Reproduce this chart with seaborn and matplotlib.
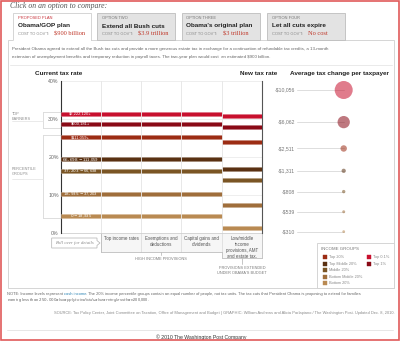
import matplotlib
matplotlib.use("Agg")
import numpy as np
import pandas as pd
import matplotlib.pyplot as plt
import matplotlib.patheffects as pe
from matplotlib.colors import PowerNorm, to_rgb
from matplotlib.patches import Rectangle, Polygon
import seaborn as sns

# ---------------- data ----------------
groups = ["Top 0.1%", "Top 1%", "Top 20%", "Top Middle 20%", "Middle 20%",
          "Bottom Middle 20%", "Bottom 20%"]
income_ranges = ["$2,222,120+", "$600,181+", "$111,059+", "$66,698-$111,059",
                 "$37,203-$66,698", "$18,935-$37,203", "$0-$18,935"]
stage_labels = ["Current", "Top income rates", "Exemptions and\ndeductions",
                "Capital gains and\ndividends",
                "Low/middle\nincome\nprovisions, AMT\nand estate tax."]
rate_current = [31.4, 28.8, 25.2, 19.4, 16.4, 10.3, 4.6]
rate_top_income = [31.4, 28.8, 25.2, 19.4, 16.4, 10.3, 4.6]
rate_exemptions = [31.4, 28.8, 25.2, 19.4, 16.4, 10.3, 4.6]
rate_capital_gains = [31.4, 28.8, 25.2, 19.4, 16.4, 10.3, 4.6]
rate_new = [30.7, 28.0, 23.9, 16.8, 13.9, 7.5, 1.4]
avg_tax_change = [-10056, -6062, -2511, -1311, -808, -539, -310]
avg_change_labels = ["-$10,056", "-$6,062", "-$2,511", "-$1,311", "-$808",
                     "-$539", "-$310"]
tick_values = [0, 10, 20, 30, 40]
tick_labels = ["0%", "10%", "20%", "30%", "40%"]
tab_kicker = ["PROPOSED PLAN", "OPTION TWO", "OPTION THREE", "OPTION FOUR"]
tab_titles = ["Obama/GOP plan", "Extend all Bush cuts", "Obama's original plan",
              "Let all cuts expire"]
tab_costs = ["$900 billion", "$3.9 trillion", "$3 trillion", "No cost"]

stage_rates = [rate_current, rate_top_income, rate_exemptions,
               rate_capital_gains, rate_new]

# ---------------- style ----------------
group_colors = ["#c8102e", "#8a0a16", "#9c2c14", "#5a3112", "#7a5524",
                "#9f6e3b", "#b98a52"]
palette = dict(zip(groups, group_colors))

sns.set_theme(style="white")
plt.rcParams['font.family'] = ['Liberation Sans', 'DejaVu Sans']
SERIF = ['Liberation Serif', 'DejaVu Serif']

W, H = 400, 341
fig = plt.figure(figsize=(4, 3.41), dpi=100)
fig.patch.set_facecolor('white')

bg = fig.add_axes([0, 0, 1, 1])
bg.set_xlim(0, W)
bg.set_ylim(H, 0)
bg.axis('off')
bg.set_zorder(0)


def px_axes(x0, y0, x1, y1):
    return fig.add_axes([x0 / W, 1 - y1 / H, (x1 - x0) / W, (y1 - y0) / H])


def light(c, f=0.5):
    r = np.array(to_rgb(c))
    return tuple(r + (1 - r) * f)


GRAY_TXT = "#666666"

# outer red frame
bg.add_patch(Rectangle((0.8, 0.8), W - 1.6, H - 1.6, fill=False,
                       edgecolor="#e05a5a", lw=1.2, zorder=10))

bg.text(10, 6, "Click on an option to compare:", family=SERIF, style='italic',
        fontsize=5.6, color="#555555", va='center', ha='left')

# panel
bg.add_patch(Rectangle((8, 40), 386, 248, facecolor='white',
                       edgecolor='#cfcfcf', lw=0.6, zorder=1))

# tabs
tab_x = [13, 97, 182, 267]
tab_w = 78
for i in range(4):
    x = tab_x[i]
    if i == 0:
        bg.add_patch(Rectangle((x, 12.5), tab_w, 28, facecolor='white',
                               edgecolor='none', zorder=2))
        bg.plot([x, x, x + tab_w, x + tab_w], [40.3, 12.5, 12.5, 40.3],
                color='#cfcfcf', lw=0.6, zorder=3)
    else:
        bg.add_patch(Rectangle((x, 12.5), tab_w, 27.5, facecolor='#e3e3e3',
                               edgecolor='#bdbdbd', lw=0.6, zorder=2))
    tx = x + 4.5
    bg.text(tx, 18.3, tab_kicker[i], fontsize=2.9,
            color="#c8343c" if i == 0 else "#777777", va='center', zorder=4)
    bg.text(tx, 26, tab_titles[i], fontsize=4.6, fontweight='bold',
            color="#222222", va='center', zorder=4)
    bg.text(tx, 33.8, "COST TO GOV'T:", fontsize=2.9, color="#888888",
            va='center', zorder=4)
    bg.text(tx + 36.5, 33.6, tab_costs[i], fontsize=4.6, family=SERIF,
            color="#c0392b", va='center', zorder=4)

# description
desc = ["President Obama agreed to extend all the Bush tax cuts and provide a more generous estate tax in exchange for a continuation of refundable tax credits, a 13-month",
        "extension of unemployment benefits and temporary reduction in payroll taxes. The two-year plan would cost  an estimated $900 billion."]
bg.text(11.5, 48.8, desc[0], fontsize=3.15, color=GRAY_TXT, va='center', zorder=4)
bg.text(11.5, 56.6, desc[1], fontsize=3.15, color=GRAY_TXT, va='center', zorder=4)
bg.plot([10, 392], [65, 65], color='#e6e6e6', lw=0.6, zorder=3)

# headers
bg.text(35, 73.3, "Current tax rate", fontsize=4.6, fontweight='bold',
        color="#222222", va='center', zorder=4)
bg.text(259, 73.3, "New tax rate", fontsize=4.6, fontweight='bold',
        color="#222222", va='center', ha='center', zorder=4)
bg.text(339, 73.3, "Average tax change per taxpayer", fontsize=4.6,
        fontweight='bold', color="#222222", va='center', ha='center', zorder=4)

# ---------------- main chart ----------------
X0, X1, YT, YB = 60.5, 262, 81, 233
n_st = len(stage_labels)
ax = px_axes(X0, YT, X1, YB)
ax.set_zorder(3)
ax.set_facecolor('none')

rows = []
for gi, g in enumerate(groups):
    for si in range(n_st):
        r = stage_rates[si][gi]
        seg = f"{g}|{si}"
        rows.append(dict(group=g, seg=seg, x=si, rate=r))
        rows.append(dict(group=g, seg=seg, x=si + 1, rate=r))
bars = pd.DataFrame(rows)

sns.lineplot(data=bars, x='x', y='rate', hue='group', units='seg',
             estimator=None, palette=palette, hue_order=groups, lw=2.5,
             legend=False, sort=False, ax=ax, zorder=3)
for ln in ax.lines:
    ln.set_solid_capstyle('butt')
    ln.set_path_effects([pe.Stroke(linewidth=3.5,
                                   foreground=light(ln.get_color(), 0.55)),
                         pe.Normal()])

ax.set_xlim(0, n_st)
ax.set_ylim(0, 40)
ax.set_yticks(tick_values)
ax.set_yticklabels(tick_labels, fontsize=3.8, color=GRAY_TXT)
ax.set_xticks([])
ax.tick_params(axis='y', length=0, pad=1.2)
ax.set_xlabel('')
ax.set_ylabel('')
ax.grid(axis='y', color='#e8e8e8', lw=0.5)
ax.set_axisbelow(True)
ax.vlines(range(1, n_st), 0, 40, color='#e9e9e9', lw=0.6, zorder=5)
for s in ['top', 'bottom']:
    ax.spines[s].set_visible(False)
ax.spines['left'].set_color('#333333')
ax.spines['left'].set_linewidth(0.8)
ax.spines['right'].set_color('#555555')
ax.spines['right'].set_linewidth(0.8)

for gi in range(len(groups)):
    ax.text(0.5, rate_current[gi], income_ranges[gi], fontsize=3.0,
            color='white', ha='center', va='center', zorder=6)

# left group annotations
bg.text(11.7, 112, "TOP\nEARNERS", fontsize=2.8, color="#8a8a8a", va='top',
        linespacing=1.25, zorder=4)
bg.plot([42.7, 42.7], [111.7, 128.3], color='#d8d8d8', lw=0.6, zorder=2)
bg.plot([42.7, X0], [111.7, 111.7], color='#d8d8d8', lw=0.6, zorder=2)
bg.plot([42.7, X0], [128.3, 128.3], color='#d8d8d8', lw=0.6, zorder=2)
bg.plot([11.7, 42.7], [120.5, 120.5], color='#e2e2e2', lw=0.5, zorder=2)
bg.text(11.7, 167.5, "PERCENTILE\nGROUPS", fontsize=2.8, color="#8a8a8a",
        va='top', linespacing=1.25, zorder=4)
bg.plot([42.7, 42.7], [135, 218.3], color='#d8d8d8', lw=0.6, zorder=2)
bg.plot([42.7, X0], [135, 135], color='#d8d8d8', lw=0.6, zorder=2)
bg.plot([42.7, X0], [218.3, 218.3], color='#d8d8d8', lw=0.6, zorder=2)
bg.plot([11.7, 42.7], [179.3, 179.3], color='#e2e2e2', lw=0.5, zorder=2)

# bottom stage label boxes
colw = (X1 - X0) / n_st
col_px = [X0 + i * colw for i in range(n_st + 1)]
bg.add_patch(Rectangle((col_px[1], YB), col_px[4] - col_px[1], 251.7 - YB,
                       facecolor='#f6f6f6', edgecolor='none', zorder=1.5))
bg.add_patch(Rectangle((col_px[4], YB), col_px[5] - col_px[4], 258.3 - YB,
                       facecolor='#f6f6f6', edgecolor='none', zorder=1.5))
for xv in col_px[1:5]:
    bg.plot([xv, xv], [YT, 251.7], color='#dedede', lw=0.6, zorder=2)
bg.plot([col_px[5], col_px[5]], [YB, 258.3], color='#bdbdbd', lw=0.6, zorder=2)
bg.plot([col_px[4], col_px[4]], [251.7, 258.3], color='#bdbdbd', lw=0.6, zorder=2)
bg.plot([col_px[1], col_px[4]], [251.7, 251.7], color='#bdbdbd', lw=0.6, zorder=2)
bg.plot([col_px[1], col_px[1]], [YB, 251.7], color='#bdbdbd', lw=0.6, zorder=2)
bg.plot([col_px[4], col_px[5]], [258.3, 258.3], color='#bdbdbd', lw=0.6, zorder=2)
bg.plot([col_px[0], col_px[5]], [YB, YB], color='#d0d0d0', lw=0.6, zorder=2)
hc = (col_px[1] + col_px[4]) / 2
bg.plot([hc, hc], [251.7, 254.8], color='#bdbdbd', lw=0.6, zorder=2)
bg.text(hc, 259.3, "HIGH INCOME PROVISIONS", fontsize=2.8, color="#7a7a7a",
        ha='center', va='center', zorder=4)
lc = (col_px[4] + col_px[5]) / 2
bg.plot([lc, lc], [258.3, 263.5], color='#bdbdbd', lw=0.6, zorder=2)
bg.text(lc, 266.3, "PROVISIONS EXTENDED\nUNDER OBAMA'S BUDGET", fontsize=2.8,
        color="#7a7a7a", ha='center', va='top', linespacing=1.35, zorder=4)
for si in range(1, n_st):
    cx = (col_px[si] + col_px[si + 1]) / 2
    bg.text(cx, 235.6, stage_labels[si], fontsize=3.25, color="#555555",
            ha='center', va='top', linespacing=1.25, zorder=4)

# roll-over bubble
bg.add_patch(Polygon([(51.7, 238), (97, 238), (97, 240.6), (100, 243),
                      (97, 245.4), (97, 248), (51.7, 248)], closed=True,
                     facecolor='white', edgecolor='#b0b0b0', lw=0.5, zorder=3))
bg.text(74.3, 243.2, "Roll over for details", family=SERIF, style='italic',
        fontsize=3.4, color="#888888", ha='center', va='center', zorder=4)

# ---------------- dots ----------------
DX = 343.7
dax = px_axes(DX - 20, YT, DX + 20, YB)
dax.set_zorder(3)
dax.set_facecolor('none')
dax.set_xlim(-1, 1)
dax.set_ylim(YB, YT)
dax.axis('off')

abs_change = np.abs(np.array(avg_tax_change, dtype=float))
smin, smax = 4.0, 168.0
snorm = PowerNorm(1.5, vmin=abs_change.min(), vmax=abs_change.max())
areas = smin + (smax - smin) * np.asarray(snorm(abs_change))
radii = np.sqrt(areas) / 2 * 100 / 72  # pixel radius
gap = ((YB - YT) - 2 * radii.sum()) / (len(radii) - 1)
ypos = []
cur = YT
for r in radii:
    ypos.append(cur + r)
    cur += 2 * r + gap

dots = pd.DataFrame(dict(group=groups, change=abs_change, xpos=0.0, ypos=ypos))
sns.scatterplot(data=dots, x='xpos', y='ypos', hue='group', palette=palette,
                hue_order=groups, size='change', sizes=(smin, smax),
                size_norm=PowerNorm(1.5, vmin=abs_change.min(),
                                    vmax=abs_change.max()),
                alpha=0.55, linewidth=0, legend=False, ax=dax, zorder=4)
dax.set_xlim(-1, 1)
dax.set_ylim(YB, YT)
dax.axis('off')

for y, lab in zip(ypos, avg_change_labels):
    bg.text(295, y, lab, fontsize=3.7, color="#777777", ha='right',
            va='center', zorder=4)
    bg.plot([297, DX], [y, y], color='#d8d8d8', lw=0.6, zorder=2)

# ---------------- legend box ----------------
bg.add_patch(Rectangle((316.7, 243), 394 - 316.7, 288 - 243, facecolor='white',
                       edgecolor='#cfcfcf', lw=0.6, zorder=3))
bg.text(321, 248.7, "INCOME GROUPS", fontsize=3.2, color="#777777",
        va='center', zorder=4)
col1 = groups[2:]
col2 = groups[:2]
row_y = [257.3, 263.7, 270.1, 276.6, 283]
for j, g in enumerate(col1):
    bg.add_patch(Rectangle((322.7, row_y[j] - 2), 4, 4, facecolor=palette[g],
                           edgecolor=light(palette[g], -0.0), lw=0.3, zorder=4))
    bg.text(329.3, row_y[j], g, fontsize=2.8, color="#888888", va='center',
            zorder=4)
for j, g in enumerate(col2):
    bg.add_patch(Rectangle((366.7, row_y[j] - 2), 4, 4, facecolor=palette[g],
                           edgecolor=palette[g], lw=0.3, zorder=4))
    bg.text(373, row_y[j], g, fontsize=2.8, color="#888888", va='center',
            zorder=4)

# ---------------- notes ----------------
fig.canvas.draw()
renderer = fig.canvas.get_renderer()


def run_text(x, y, pieces, **kw):
    inv = bg.transData.inverted()
    for txt, col in pieces:
        t = bg.text(x, y, txt, color=col, va='center', ha='left', zorder=4, **kw)
        bb = t.get_window_extent(renderer=renderer)
        x = inv.transform((bb.x1, bb.y0))[0]


run_text(6.7, 293.8, [("NOTE: Income levels represent ", GRAY_TXT),
                      ("cash income", "#2f86b5"),
                      (". The 20% income percentile groups contain an equal number of people, not tax units. The tax cuts that President Obama is proposing to extend for families", GRAY_TXT)],
         fontsize=2.9)
bg.text(6.7, 299.6, "earning less than $250,000 also apply to individuals earning less than $200,000.",
        fontsize=2.9, color=GRAY_TXT, va='center', zorder=4)
bg.text(395, 313.3, "SOURCE: Tax Policy Center, Joint Committee on Taxation, Office of Management and Budget | GRAPHIC: William Andrews and Alicia Parlapiano / The Washington Post. Updated Dec. 8, 2010.",
        fontsize=2.85, color="#8a8a8a", ha='right', va='center', zorder=4)
bg.plot([7, 393], [330, 330], color='#e3e3e3', lw=0.6, zorder=2)
bg.text(200.8, 337.2, "\u00a9 2010 The Washington Post Company", fontsize=3.7,
        color="#333333", ha='center', va='center', zorder=4)

fig.savefig("out.png", dpi=100, facecolor='white')
